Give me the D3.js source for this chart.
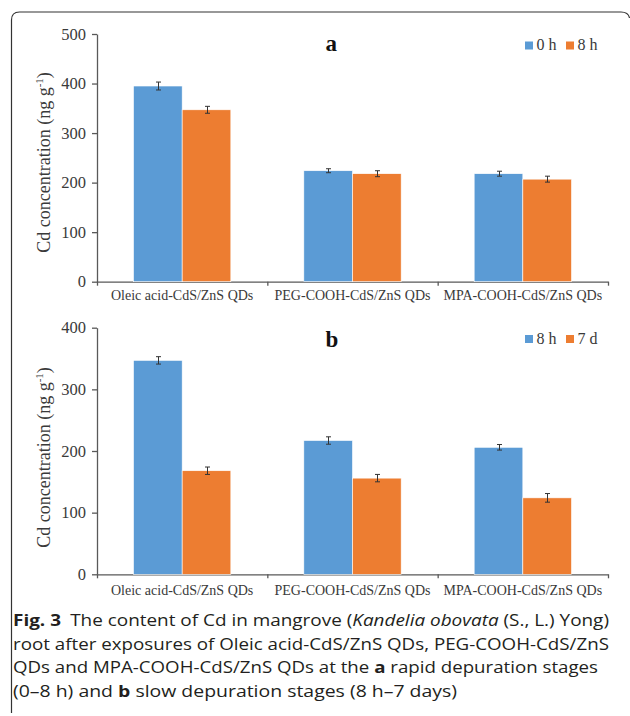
<!DOCTYPE html>
<html>
<head>
<meta charset="utf-8">
<script src="https://cdn.jsdelivr.net/npm/d3@7"></script>
<style>
body { margin: 0; background: #fff; }
svg { display: block; }
svg text.serif, .serif text { font-family: "Liberation Serif", "Times New Roman", serif !important; }
.caption { font-family: "Open Sans", "Noto Sans", sans-serif; font-size: 16.5px; fill: #231f20; }
</style>
</head>
<body>
<svg id="fig" width="630" height="716"></svg>
<script>
const categories = ["Oleic acid-CdS/ZnS QDs", "PEG-COOH-CdS/ZnS QDs", "MPA-COOH-CdS/ZnS QDs"];

// panel a: rapid depuration
const rapidSeries = ["0 h", "8 h"];
const rapid0h = [395, 224, 218];
const rapid0hErr = [8, 4, 5];
const rapid8h = [347, 218, 207];
const rapid8hErr = [7, 6, 6];
const rapidTicks = [0, 100, 200, 300, 400, 500];

// panel b: slow depuration
const slowSeries = ["8 h", "7 d"];
const slow8h = [347, 217, 206];
const slow8hErr = [6, 6, 4.5];
const slow7d = [168, 156, 124];
const slow7dErr = [6, 6, 7];
const slowTicks = [0, 100, 200, 300, 400];

const colors = ["#5b9bd5", "#ed7d31"];

const attr = {
    left: 97,
    right: 608,
    axisColor: "#595959",
    textColor: "#3a3a3a",
    serif: "'Liberation Serif', 'Times New Roman', serif"
};

const panels = [
    {
        letter: "a", series: rapidSeries, values: [rapid0h, rapid8h], errs: [rapid0hErr, rapid8hErr],
        ticks: rapidTicks, top: 34, bottom: 281.7, letterY: 50.7, legendY: 41.5, labelY: 300, ylabelY: 162.5
    },
    {
        letter: "b", series: slowSeries, values: [slow8h, slow7d], errs: [slow8hErr, slow7dErr],
        ticks: slowTicks, top: 327.7, bottom: 574.3, letterY: 346.7, legendY: 335, labelY: 595, ylabelY: 457.5
    }
];

const svg = d3.select("#fig");

// frame
svg.append("path")
    .attr("d", "M11.5,713 V20 Q11.5,12 19.5,12 H621 Q628.5,12 629.5,18")
    .attr("fill", "none")
    .attr("stroke", "#333")
    .attr("stroke-width", 1.2);

const x = d3.scaleBand().domain(categories).range([attr.left, attr.right]);
const bw = x.bandwidth() / 3.5;

const drawPanel = function(p) {
    const y = d3.scaleLinear()
        .domain([0, d3.max(p.ticks)])
        .range([p.bottom, p.top]);

    const g = svg.append("g").attr("class", "serif");

    // y axis
    const yAxis = g.append("g")
        .attr("transform", "translate(" + attr.left + ",0)")
        .call(d3.axisLeft(y).tickValues(p.ticks).tickSize(5).tickSizeOuter(0).tickPadding(6));
    yAxis.attr("font-family", null);
    yAxis.select(".domain").attr("stroke", attr.axisColor).attr("stroke-width", 1.3);
    yAxis.selectAll(".tick line").attr("stroke", attr.axisColor).attr("stroke-width", 1.3);
    yAxis.selectAll(".tick text")
        .style("font-family", attr.serif)
        .attr("font-size", 16.5)
        .attr("fill", attr.textColor);

    // x axis with category boundary ticks
    const xb = d3.scaleLinear().domain([0, categories.length]).range([attr.left, attr.right]);
    const xAxis = g.append("g")
        .attr("transform", "translate(0," + p.bottom + ")")
        .call(d3.axisBottom(xb).tickValues(d3.range(categories.length + 1)).tickSize(4).tickSizeOuter(0).tickFormat(""));
    xAxis.select(".domain").attr("stroke", attr.axisColor).attr("stroke-width", 1.3);
    xAxis.selectAll(".tick line").attr("stroke", attr.axisColor).attr("stroke-width", 1.3);

    // category labels
    g.selectAll(".cat")
        .data(categories)
        .enter()
        .append("text")
        .attr("class", "cat")
        .attr("x", d => x(d) + x.bandwidth() / 2)
        .attr("y", p.labelY)
        .attr("text-anchor", "middle")
        .style("font-family", attr.serif)
        .attr("font-size", 14)
        .attr("fill", attr.textColor)
        .text(d => d);

    // bars
    p.values.forEach(function(vals, s) {
        g.append("g")
            .selectAll("rect")
            .data(vals)
            .enter()
            .append("rect")
            .attr("x", (d, i) => x(categories[i]) + x.bandwidth() / 2 - bw + s * bw)
            .attr("y", d => y(d))
            .attr("width", bw)
            .attr("height", d => p.bottom - y(d))
            .attr("fill", colors[s])
            .attr("stroke", "#fff")
            .attr("stroke-width", 0.6);
    });

    // error bars
    p.values.forEach(function(vals, s) {
        const eg = g.append("g").attr("stroke", "#333").attr("stroke-width", 1);
        vals.forEach(function(v, i) {
            const cx = Math.round(x(categories[i]) + x.bandwidth() / 2 - bw + s * bw + bw / 2) + 0.5;
            const e = p.errs[s][i];
            eg.append("line").attr("x1", cx).attr("x2", cx).attr("y1", y(v - e)).attr("y2", y(v + e));
            eg.append("line").attr("x1", cx - 2.5).attr("x2", cx + 2.5).attr("y1", y(v - e)).attr("y2", y(v - e));
            eg.append("line").attr("x1", cx - 2.5).attr("x2", cx + 2.5).attr("y1", y(v + e)).attr("y2", y(v + e));
        });
    });

    // y label
    const yl = g.append("text")
        .attr("transform", "translate(50," + p.ylabelY + ") rotate(-90)")
        .attr("text-anchor", "middle")
        .style("font-family", attr.serif)
        .attr("font-size", 18)
        .attr("fill", attr.textColor);
    yl.append("tspan").text("Cd concentration (ng g");
    yl.append("tspan").attr("dy", -7).attr("font-size", 11).text("-1");
    yl.append("tspan").attr("dy", 7).text(")");

    // panel letter
    g.append("text")
        .attr("x", 325.5)
        .attr("y", p.letterY)
        .style("font-family", attr.serif)
        .attr("font-size", 23)
        .attr("font-weight", "bold")
        .attr("fill", "#111")
        .text(p.letter);

    // legend
    const lg = g.append("g").attr("transform", "translate(525," + p.legendY + ")");
    p.series.forEach(function(name, s) {
        lg.append("rect")
            .attr("x", s * 41)
            .attr("y", 0)
            .attr("width", 8)
            .attr("height", 8)
            .attr("fill", colors[s]);
        lg.append("text")
            .attr("x", s * 41 + 11.5)
            .attr("y", 8.5)
            .style("font-family", attr.serif)
            .attr("font-size", 16)
            .attr("fill", attr.textColor)
            .text(name);
    });
};

panels.forEach(drawPanel);

// caption
const captionX = 13;
const captionLines = [
    { y: 626, width: 596 },
    { y: 649.5, width: 596 },
    { y: 673, width: 585 },
    { y: 696.5, width: 444 }
];

const cap = captionLines.map(l => svg.append("text")
    .attr("class", "caption")
    .attr("x", captionX)
    .attr("y", l.y));

cap[0].append("tspan").attr("font-weight", "bold").text("Fig. 3");
cap[0].append("tspan").attr("dx", 8).text("The content of Cd in mangrove (");
cap[0].append("tspan").attr("font-style", "italic").text("Kandelia obovata");
cap[0].append("tspan").text(" (S., L.) Yong)");

cap[1].text("root after exposures of Oleic acid-CdS/ZnS QDs, PEG-COOH-CdS/ZnS");

cap[2].append("tspan").text("QDs and MPA-COOH-CdS/ZnS QDs at the ");
cap[2].append("tspan").attr("font-weight", "bold").text("a");
cap[2].append("tspan").text(" rapid depuration stages");

cap[3].append("tspan").text("(0\u20138 h) and ");
cap[3].append("tspan").attr("font-weight", "bold").text("b");
cap[3].append("tspan").text(" slow depuration stages (8 h\u20137 days)");

cap.forEach(function(t, i) {
    t.attr("textLength", captionLines[i].width).attr("lengthAdjust", "spacingAndGlyphs");
});
</script>
</body>
</html>
